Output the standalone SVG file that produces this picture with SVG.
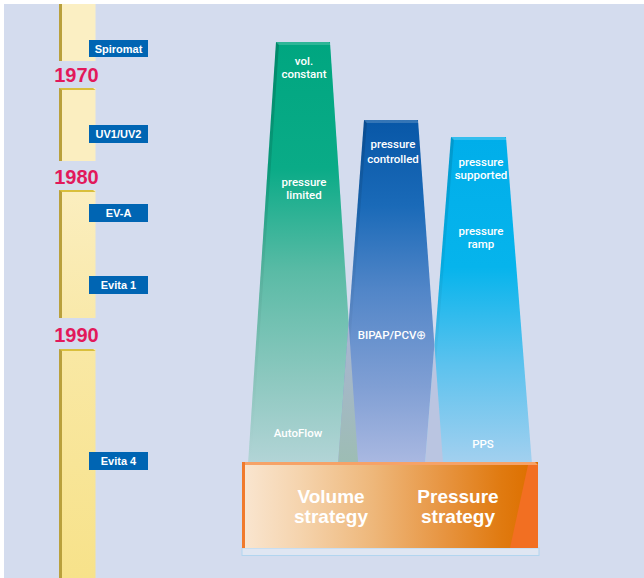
<svg xmlns="http://www.w3.org/2000/svg" width="644" height="578" viewBox="0 0 644 578">
<defs>
<style>
.lbl{font-family:"Liberation Sans",Arial,sans-serif;font-size:11px;font-weight:bold;fill:#fff;text-anchor:middle}
.yr{font-family:"Liberation Sans",Arial,sans-serif;font-size:20px;font-weight:bold;fill:#e2195b;text-anchor:middle}
.col{font-family:Roboto,"Liberation Sans",Arial,sans-serif;font-size:11.5px;font-weight:500;fill:#fff;text-anchor:middle}
.big{font-family:"Liberation Sans",Arial,sans-serif;font-size:19px;font-weight:bold;fill:#fff;text-anchor:middle}
.box{fill:#0065b3}
.edge{fill:#b9a03c}
.bev{fill:#d9bf3c}
</style>
<linearGradient id="gGreen" gradientUnits="userSpaceOnUse" x1="0" y1="42" x2="0" y2="462">
<stop offset="0" stop-color="#00a680"/><stop offset="0.3" stop-color="#0aab87"/><stop offset="0.55" stop-color="#5bbba6"/><stop offset="0.8" stop-color="#8cc8bf"/><stop offset="1" stop-color="#b2d4d6"/>
</linearGradient>
<linearGradient id="gBlue" gradientUnits="userSpaceOnUse" x1="0" y1="120" x2="0" y2="462">
<stop offset="0" stop-color="#0857a7"/><stop offset="0.25" stop-color="#1a6ab8"/><stop offset="0.5" stop-color="#5286c8"/><stop offset="0.78" stop-color="#809fd4"/><stop offset="1" stop-color="#a9b8e1"/>
</linearGradient>
<linearGradient id="gCyan" gradientUnits="userSpaceOnUse" x1="0" y1="137" x2="0" y2="462">
<stop offset="0" stop-color="#00aeea"/><stop offset="0.4" stop-color="#06b4ec"/><stop offset="0.7" stop-color="#5cc2ee"/><stop offset="1" stop-color="#a2d0ef"/>
</linearGradient>
<linearGradient id="gOv1" gradientUnits="userSpaceOnUse" x1="0" y1="322" x2="0" y2="462">
<stop offset="0" stop-color="#a9b4d4"/><stop offset="1" stop-color="#9dbdb4"/>
</linearGradient>
<linearGradient id="gBar3" x1="0" y1="0" x2="0" y2="1">
<stop offset="0" stop-color="#fbeebf"/><stop offset="1" stop-color="#f9e9aa"/>
</linearGradient>
<linearGradient id="gBar4" x1="0" y1="0" x2="0" y2="1">
<stop offset="0" stop-color="#f9e8a4"/><stop offset="1" stop-color="#f7e28a"/>
</linearGradient>
<linearGradient id="gOrange" gradientUnits="userSpaceOnUse" x1="245" y1="0" x2="530" y2="0">
<stop offset="0" stop-color="#f9e5cf"/><stop offset="0.2" stop-color="#f5d3ac"/><stop offset="0.45" stop-color="#eeb77a"/><stop offset="0.7" stop-color="#e79440"/><stop offset="0.9" stop-color="#e07a10"/><stop offset="1" stop-color="#dd7000"/>
</linearGradient>
<linearGradient id="gFade" gradientUnits="userSpaceOnUse" x1="0" y1="40" x2="0" y2="462">
<stop offset="0" stop-color="#000" stop-opacity="0.18"/><stop offset="0.5" stop-color="#000" stop-opacity="0.06"/><stop offset="1" stop-color="#000" stop-opacity="0"/>
</linearGradient>
</defs>
<rect x="0" y="0" width="644" height="578" fill="#ffffff"/>
<rect x="4" y="4" width="640" height="574" fill="#d4dcee"/>

<g id="timeline">
<g id="seg1"><rect class="edge" x="59" y="4" width="3" height="57"/><rect x="62" y="4" width="33.5" height="57" fill="#fbefc3"/></g>
<g id="seg2"><rect class="edge" x="59" y="88" width="3" height="73"/><rect x="62" y="88" width="33.5" height="73" fill="#fbeec0"/><polygon class="bev" points="59,88 93,88 95.5,90 62,90"/></g>
<g id="seg3"><rect class="edge" x="59" y="190" width="3" height="128"/><rect x="62" y="190" width="33.5" height="128" fill="url(#gBar3)"/><polygon class="bev" points="59,190 93,190 95.5,192 62,192"/></g>
<g id="seg4"><rect class="edge" x="59" y="349" width="3" height="229"/><rect x="62" y="349" width="33.5" height="229" fill="url(#gBar4)"/><polygon class="bev" points="59,349 93,349 95.5,351 62,351"/></g>
<text class="yr" x="76.5" y="82">1970</text>
<text class="yr" x="76.5" y="184">1980</text>
<text class="yr" x="76.5" y="342">1990</text>
</g>

<g id="spiromat"><rect class="box" x="89" y="40" width="59" height="17"/><text class="lbl" x="118.5" y="52.5">Spiromat</text></g>
<g id="uv"><rect class="box" x="89" y="125" width="59" height="18"/><text class="lbl" x="118.5" y="138">UV1/UV2</text></g>
<g id="eva"><rect class="box" x="89" y="204" width="59" height="18"/><text class="lbl" x="118.5" y="217">EV-A</text></g>
<g id="evita1"><rect class="box" x="89" y="276" width="59" height="18"/><text class="lbl" x="118.5" y="289">Evita 1</text></g>
<g id="evita4"><rect class="box" x="89" y="452" width="59" height="18"/><text class="lbl" x="118.5" y="465">Evita 4</text></g>

<g id="col-volume">
<polygon points="276,42 330,42 358.2,464 248,464" fill="url(#gGreen)"/>
<polygon points="276,42 279,44 251,464 248,464" fill="url(#gFade)"/>
<polygon points="276,42 329,42 331.5,45 278.5,45" fill="#ffffff" fill-opacity="0.18"/>
</g>
<g id="col-pressure-controlled">
<polygon points="364,120 418,120 443.1,464 338,464" fill="url(#gBlue)"/>
<polygon points="364,120 367,122 341,464 338,464" fill="url(#gFade)"/>
<polygon points="364,120 417,120 419.5,123 366.5,123" fill="#ffffff" fill-opacity="0.18"/>
</g>
<g id="col-pressure-supported">
<polygon points="451,137 506,137 532,464 425,464" fill="url(#gCyan)"/>
<polygon points="451,137 454,139 428,464 425,464" fill="url(#gFade)"/>
<polygon points="451,137 505,137 507.5,140 453.5,140" fill="#ffffff" fill-opacity="0.2"/>
</g>
<g id="overlaps">
<polygon points="348.6,322 358.2,464 338,464" fill="url(#gOv1)"/>
<polygon points="434.4,344 443.1,464 425,464" fill="#bac5e1"/>
</g>

<g id="col-labels">
<text class="col" x="304" y="65">vol.</text>
<text class="col" x="304" y="78">constant</text>
<text class="col" x="304" y="186">pressure</text>
<text class="col" x="304" y="199">limited</text>
<text class="col" x="298" y="437">AutoFlow</text>
<text class="col" x="393" y="148">pressure</text>
<text class="col" x="393" y="163">controlled</text>
<text class="col" x="392" y="339">BIPAP/PCV⊕</text>
<text class="col" x="481" y="166">pressure</text>
<text class="col" x="481" y="179">supported</text>
<text class="col" x="481" y="235">pressure</text>
<text class="col" x="481" y="248">ramp</text>
<text class="col" x="483" y="448">PPS</text>
</g>

<g id="base">
<rect x="242" y="548" width="297" height="7.5" fill="#dfe6f2" stroke="#b2d5ef" stroke-width="1"/>
<rect x="242" y="462" width="296" height="86" fill="url(#gOrange)"/>
<polygon points="528,465 538,465 538,548 510,548" fill="#f26f22"/>
<polygon points="242,462 535,462 538,465 245,465" fill="#f6a267"/>
<rect x="242" y="462" width="3" height="86" fill="#f07a2c"/>
<text class="big" x="331" y="503">Volume</text>
<text class="big" x="331" y="523">strategy</text>
<text class="big" x="458" y="503">Pressure</text>
<text class="big" x="458" y="523">strategy</text>
</g>
</svg>
